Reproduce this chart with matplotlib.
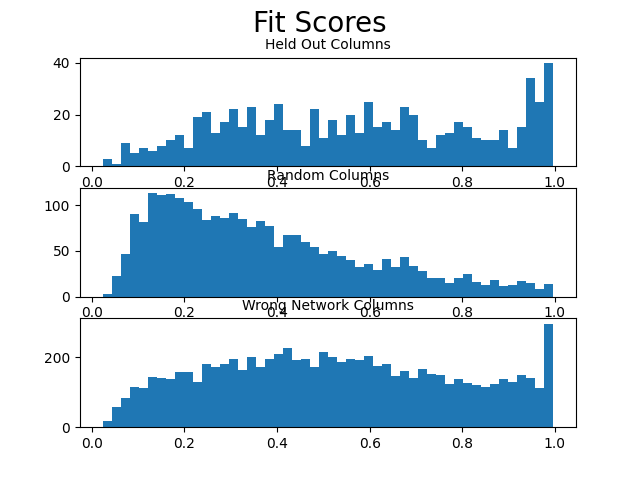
import numpy as np
import matplotlib
matplotlib.use("Agg")
import matplotlib.pyplot as plt

bin_start = 0.023
bin_end = 0.997
n_bins = 50

titles = ["Held Out Columns", "Random Columns", "Wrong Network Columns"]

held_out = [3, 1, 9, 5, 7, 6, 8, 10, 12, 7,
            19, 21, 13, 17, 22, 15, 23, 12, 18, 24,
            14, 14, 8, 22, 11, 18, 12, 20, 13, 25,
            15, 17, 14, 23, 20, 10, 7, 12, 13, 17,
            15, 11, 10, 10, 14, 7, 15, 34, 25, 40]

random_cols = [3, 23, 47, 90, 82, 113, 111, 112, 108, 103,
               96, 84, 88, 86, 91, 85, 76, 83, 77, 54,
               67, 67, 60, 54, 47, 50, 45, 40, 33, 36,
               29, 41, 33, 43, 34, 28, 21, 21, 15, 21,
               25, 16, 13, 18, 12, 13, 17, 15, 9, 14]

wrong_net = [18, 58, 84, 115, 112, 144, 141, 138, 158, 158,
             130, 181, 172, 181, 195, 164, 201, 172, 195, 210,
             227, 192, 195, 172, 215, 201, 187, 195, 192, 204,
             175, 181, 147, 161, 141, 167, 152, 150, 124, 138,
             127, 121, 115, 124, 138, 130, 150, 141, 112, 295]

series = [held_out, random_cols, wrong_net]
edges = np.linspace(bin_start, bin_end, n_bins + 1)

fig, axes = plt.subplots(3, 1, figsize=(6.4, 4.8), dpi=100)
fig.suptitle("Fit Scores", fontsize=20)
for ax, title, counts in zip(axes, titles, series):
    ax.hist(edges[:-1], bins=edges, weights=counts, color="#1f77b4")
    ax.set_title(title, fontsize=10)

fig.savefig("out.png", dpi=100)
